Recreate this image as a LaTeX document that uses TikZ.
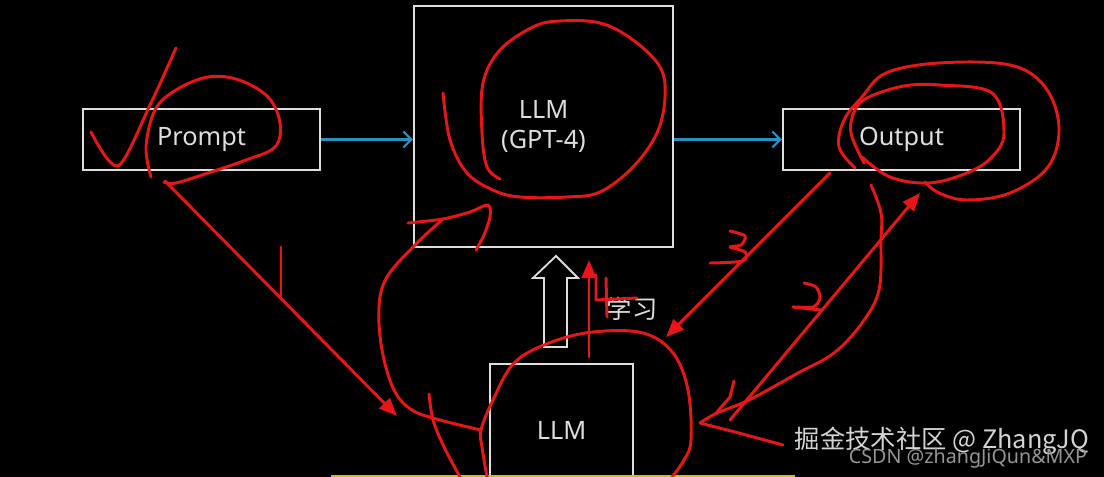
\documentclass[tikz,border=0pt]{standalone}
\usepackage{fontspec}
\setmainfont{Noto Sans}
\newfontfamily\cjkfont{Noto Sans CJK SC}
\usetikzlibrary{arrows.meta,positioning}
\definecolor{slBlue}  {RGB}{ 40,145,195}
\definecolor{slRed}   {RGB}{232, 22, 22}
\definecolor{slWhite} {RGB}{222,222,222}
\definecolor{slGreyL} {RGB}{212,212,212}
\definecolor{slGreyD} {RGB}{150,150,150}
\definecolor{slYellow}{RGB}{205,190, 20}

\begin{document}
\begin{tikzpicture}[x=0.025cm,y=-0.025cm,
  every node/.style={font=\fontsize{18}{21}\selectfont,text=slWhite},
  box/.style={draw=slWhite,line width=1.3pt,align=center,inner sep=0pt},
  flow/.style={draw=slBlue,line width=1.6pt,-{Straight Barb[length=2mm,width=4mm]}},
  pen/.style={draw=slRed,line width=2.1pt,line cap=round,line join=round},
  penarr/.style={pen,-{Triangle[length=4.5mm,width=3.6mm]}}
]
\useasboundingbox (0,0) rectangle (1104,477);
\clip (0,0) rectangle (1104,477);
\fill[black] (0,0) rectangle (1104,477);

% boxes
\node[box,minimum width=5.93cm,minimum height=1.53cm] (prompt) at (201.5,139.5) {Prompt};
\node[box,minimum width=6.48cm,minimum height=6.03cm] (gpt)    at (543.5,126.5) {LLM\\(GPT-4)};
\node[box,minimum width=5.93cm,minimum height=1.53cm] (out)    at (901.5,139.5) {Output};
\node[box,minimum width=3.58cm,minimum height=3.3cm]  (llm)    at (561.5,430)   {LLM};
\node (learn) at (632,309) {\cjkfont 学习};

\draw[flow] (prompt.east) -- (prompt.east -| gpt.west);
\draw[flow] (gpt.east |- out.west) -- (out.west);

% hollow arrow
\draw[slWhite,line width=1.3pt] (544,347) -- (544,278) -- (533,278) -- (556,256)
  -- (578,278) -- (567,278) -- (567,347) -- cycle;

\draw[slYellow,line width=1.5pt] (331,476) -- (795,476);

% red notes
\draw[pen] plot[smooth,tension=0.5] coordinates {(91,132) (118,166) (150,105) (176,48)};
\draw[pen] plot[smooth,tension=0.6] coordinates {(151,177) (146,147) (155,110) (176,90)
  (208,77) (239,80) (268,97) (280,123) (275,147) (246,160) (211,172) (176,183) (164,182)};
\draw[pen] plot[smooth,tension=0.6] coordinates {(500,179) (487,167) (482,133) (483,83)
  (500,50) (533,27) (560,21) (600,23) (633,40) (660,67) (665,97) (657,133) (633,167)
  (600,192) (567,197) (520,197) (493,190) (467,173) (450,140) (443,93)};
\draw[pen] plot[smooth,tension=0.6] coordinates {(864,163) (851,133) (855,110) (869,97)
  (904,86) (939,85) (992,93) (1004,133) (992,157) (967,173) (929,183) (890,177) (862,157)};
\draw[pen] plot[smooth,tension=0.6] coordinates {(855,168) (839,147) (844,120) (862,97)
  (886,73) (939,63) (1010,65) (1045,87) (1059,127) (1048,167) (1010,193) (967,200)
  (939,193) (925,182)};

% around the lower LLM
\draw[pen] plot[smooth,tension=0.5] coordinates {(408,223) (443,219) (470,212) (488,205)
  (490,217) (484,235) (476,250)};
\draw[pen] plot[smooth,tension=0.6] coordinates {(443,219) (415,245) (387,277) (379,307)
  (382,350) (394,390) (412,410) (440,420) (481,430)};
\draw[pen] plot[smooth,tension=0.6] coordinates {(487,477) (482,447) (481,430) (493,400)
  (514,363) (549,343) (593,332) (643,333) (673,353) (688,390) (691,440) (684,460) (672,477)};
\draw[pen] plot[smooth,tension=0.5] coordinates {(429,394) (433,420) (444,447) (460,477)};
\draw[pen] plot[smooth,tension=0.6] coordinates {(871,185) (881,213) (881,240) (879,290)
  (862,323) (834,353) (798,373) (749,400) (717,413) (700,423)};
\draw[pen] (734,381) -- (730,397) -- (717,412);
\draw[pen] (700,423) -- (735,432) -- (783,445);

% numbered arrows
\coordinate (oneS)   at (165,181);
\coordinate (oneE)   at (397,416);
\coordinate (twoS)   at (730,420);
\coordinate (twoE)   at (920,193);
\coordinate (threeS) at (830,173);
\coordinate (threeE) at (666,337);
\coordinate (fourS)  at (589,357);
\coordinate (fourE)  at (589,260);
\draw[penarr] (oneS) -- (oneE);
\draw[penarr] (twoS) -- (twoE);
\draw[penarr] (threeS) -- (threeE);
\draw[penarr] (fourS) -- (fourE);

% digits
\draw[pen] (281,247) -- (281,298);
\draw[pen] plot[smooth,tension=0.5] coordinates {(804,283) (816,287) (820,298) (813,307) (793,307) (821,310)};
\draw[pen] plot[smooth,tension=0.5] coordinates {(730,231) (745,236) (741,245) (730,247)
  (745,252) (743,261) (710,263)};
\draw[pen] (596,275) -- (596,300) -- (637,298);
\draw[pen] (606,278) -- (607,317);

% watermark
\node[anchor=west,text=slGreyL,font=\cjkfont\fontsize{18}{21}\selectfont] (jj) at (790,441) {掘金技术社区 @ ZhangJQ};
\node[anchor=west,text=slGreyD,font=\fontsize{14}{16}\selectfont] (csdn) at (844,458) {CSDN @zhangJiQun\&MXP};
\end{tikzpicture}
\end{document}
